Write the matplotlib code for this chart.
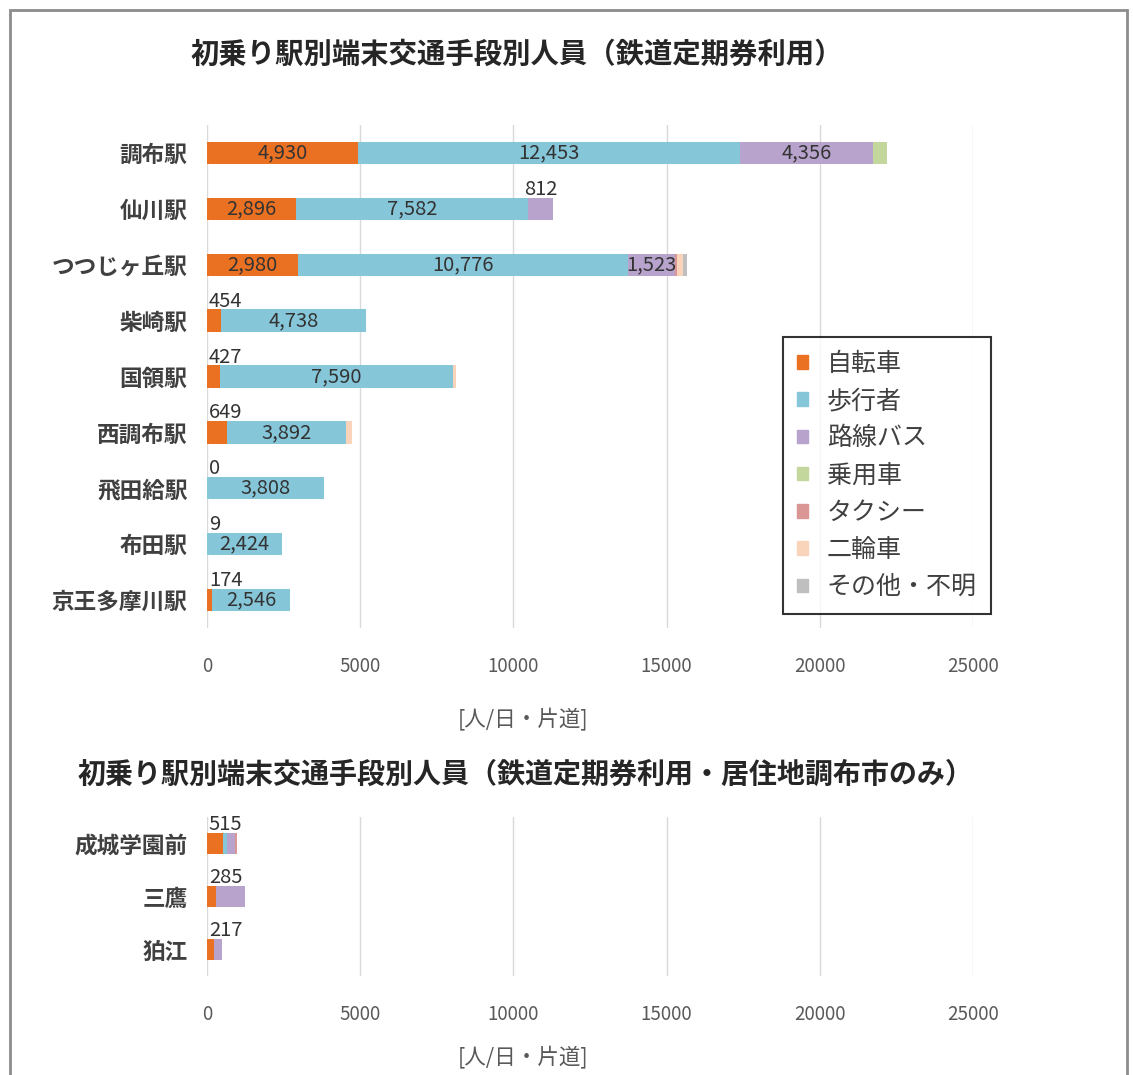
import matplotlib
matplotlib.use("Agg")
import matplotlib.pyplot as plt
from matplotlib.patches import Rectangle
import numpy as np

plt.rcParams['font.family'] = ['Noto Sans CJK JP', 'DejaVu Sans']

# ---- data ----
modes = ["自転車", "歩行者", "路線バス", "乗用車", "タクシー", "二輪車", "その他・不明"]
colors = ["#EB7122", "#86C6D9", "#B7A3CC", "#C3D69B", "#D99694", "#F9D3BA", "#BFBFBF"]

stations_top = ["調布駅", "仙川駅", "つつじヶ丘駅", "柴崎駅", "国領駅", "西調布駅", "飛田給駅", "布田駅", "京王多摩川駅"]
bike_top  = [4930, 2896, 2980, 454, 427, 649, 0, 9, 174]
walk_top  = [12453, 7582, 10776, 4738, 7590, 3892, 3808, 2424, 2546]
bus_top   = [4356, 812, 1523, 0, 0, 0, 0, 0, 0]
car_top   = [450, 0, 0, 0, 0, 0, 0, 0, 0]
taxi_top  = [0, 0, 50, 0, 0, 0, 0, 0, 0]
moto_top  = [0, 0, 200, 0, 120, 200, 0, 0, 0]
other_top = [0, 0, 150, 0, 0, 0, 0, 0, 0]

stations_bot = ["成城学園前", "三鷹", "狛江"]
bike_bot  = [515, 285, 217]
walk_bot  = [150, 0, 0]
bus_bot   = [250, 950, 280]
car_bot   = [0, 0, 0]
taxi_bot  = [80, 0, 0]
moto_bot  = [0, 0, 0]
other_bot = [0, 0, 0]

xticks = [0, 5000, 10000, 15000, 20000, 25000]
title_top = "初乗り駅別端末交通手段別人員（鉄道定期券利用）"
title_bot = "初乗り駅別端末交通手段別人員（鉄道定期券利用・居住地調布市のみ）"
unit = "[人/日・片道]"

W, H = 1133, 1075
fig = plt.figure(figsize=(W / 100, H / 100), dpi=100)
fig.patch.set_facecolor("white")

# outer frame
fig.patches.append(Rectangle((10 / W, -0.01), (1127 - 10) / W, 1.0 - 10 / H + 0.01,
                             transform=fig.transFigure, fill=False,
                             edgecolor="#8C8C8C", lw=2))

lab_col = "#333333"
BH = 0.4
FS_LAB = 14.5


def draw(ax, stations, series, label_modes, fs_y):
    n = len(stations)
    y = np.arange(n)
    left = np.zeros(n)
    segs = []
    for vals, col in zip(series, colors):
        vals = np.array(vals, dtype=float)
        ax.barh(y, vals, left=left, height=BH, color=col, zorder=3)
        segs.append((left.copy(), vals))
        left = left + vals
    ax.set_xlim(0, 25000)
    ax.set_ylim(n - 0.5, -0.5)
    ax.set_xticks(xticks)
    ax.set_xticklabels([str(t) for t in xticks])
    ax.set_yticks(y)
    ax.set_yticklabels(stations, fontsize=fs_y, color="#404040", fontweight="bold")
    ax.tick_params(axis="y", length=0, pad=14)
    ax.tick_params(axis="x", length=0, pad=20, labelsize=13.5, labelcolor="#595959")
    for s in ax.spines.values():
        s.set_visible(False)
    ax.grid(axis="x", color="#D9D9D9", lw=1, zorder=0)
    ax.set_axisbelow(True)
    # labels
    for k, thresh in label_modes:
        l0, v = segs[k]
        for i in range(n):
            if k == 2 and v[i] == 0:
                continue
            txt = f"{int(v[i]):,}"
            if v[i] >= thresh:
                ax.text(l0[i] + v[i] / 2, i, txt, ha="center", va="center",
                        fontsize=FS_LAB, color=lab_col, zorder=5)
            else:
                if k == 0:
                    ax.text(l0[i] + 60, i - BH / 2 + 0.04, txt, ha="left", va="bottom",
                            fontsize=FS_LAB, color=lab_col, zorder=5)
                else:
                    ax.text(l0[i] + v[i] / 2, i - BH / 2 + 0.04, txt, ha="center", va="bottom",
                            fontsize=FS_LAB, color=lab_col, zorder=5)


ax1 = fig.add_axes([207 / W, 1 - 628 / H, 766 / W, 503 / H])
draw(ax1, stations_top,
     [bike_top, walk_top, bus_top, car_top, taxi_top, moto_top, other_top],
     [(0, 1500), (1, 0), (2, 1000)], 16.3)

ax2 = fig.add_axes([207 / W, 1 - 976 / H, 766 / W, 159 / H])
draw(ax2, stations_bot,
     [bike_bot, walk_bot, bus_bot, car_bot, taxi_bot, moto_bot, other_bot],
     [(0, 1500)], 16.3)

fig.text(517 / W, 1 - 55 / H, title_top, ha="center", va="center",
         fontsize=20.4, fontweight="bold", color="#262626")
fig.text(525 / W, 1 - 775 / H, title_bot, ha="center", va="center",
         fontsize=20.2, fontweight="bold", color="#262626")
fig.text(523 / W, 1 - 720 / H, unit, ha="center", va="center", fontsize=15.5, color="#595959")
fig.text(523 / W, 1 - 1058 / H, unit, ha="center", va="center", fontsize=15.5, color="#595959")

handles = [Rectangle((0, 0), 1, 1, color=c) for c in colors]
leg = fig.legend(handles, modes, loc="upper left",
                 bbox_to_anchor=(783 / W, 1 - 337 / H), fontsize=18,
                 frameon=True, fancybox=False, handlelength=0.45, handleheight=0.45,
                 handletextpad=0.75, labelspacing=0.45, borderpad=0.55, borderaxespad=0)
leg.get_frame().set_edgecolor("black")
leg.get_frame().set_linewidth(1.5)
for t in leg.get_texts():
    t.set_color("#404040")

fig.savefig("out.png", dpi=100, facecolor="white")
